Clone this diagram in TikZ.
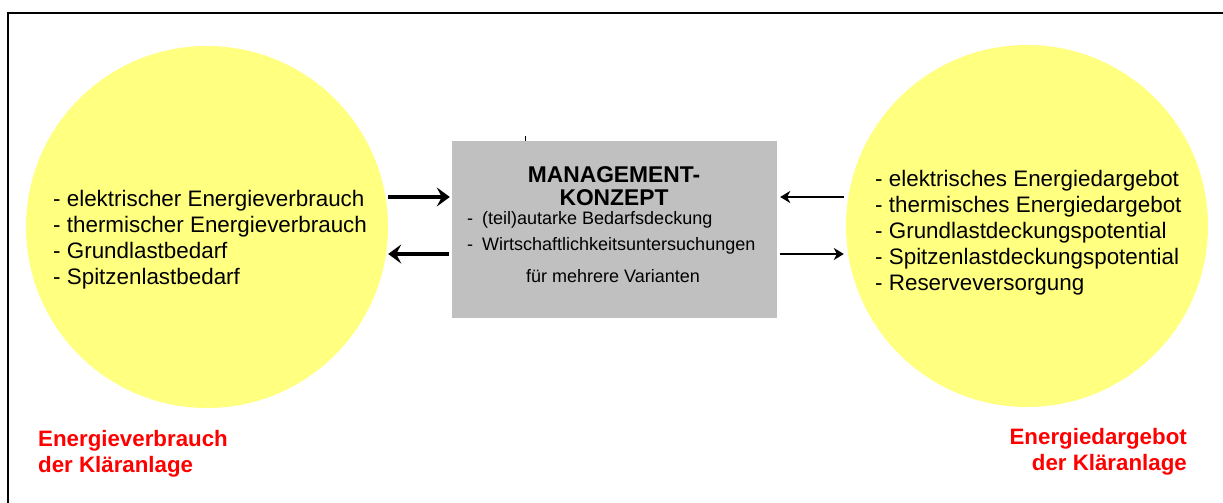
\documentclass[tikz,border=0pt]{standalone}
\usepackage{fontspec}
\setmainfont{Liberation Sans}
\usetikzlibrary{arrows.meta}

\definecolor{circleYellow}{RGB}{255,255,128}
\definecolor{boxGray}{RGB}{192,192,192}
\definecolor{labelRed}{RGB}{255,0,0}

\def\circleDiameter{362pt}

\tikzset{
  energyCircle/.style={circle, fill=circleYellow, draw=none,
    minimum size=\circleDiameter, inner sep=0pt},
  konzeptBox/.style={rectangle, fill=boxGray, draw=none,
    minimum width=325pt, minimum height=177pt, inner sep=0pt},
  listText/.style={align=left, inner sep=0pt,
    font=\fontsize{22.4}{26}\selectfont},
  titleText/.style={inner sep=0pt, font=\fontsize{22.8}{23}\selectfont\bfseries},
  boxText/.style={inner sep=0pt, font=\fontsize{18}{20}\selectfont},
  redLabel/.style={inner sep=0pt, text=labelRed,
    font=\fontsize{22.3}{26}\selectfont\bfseries},
  thickArrow/.style={line width=3.5pt,
    -{Stealth[length=13pt, width=19pt, inset=5pt]}},
  thinArrow/.style={line width=2.5pt,
    -{Stealth[length=10pt, width=12pt, inset=3pt]}}
}

\begin{document}
\begin{tikzpicture}[x=1pt, y=1pt]
      \clip (0,0) rectangle (1223,503);

      % frame round the whole sheet
      \draw[line width=2pt]
        (8,-20) rectangle (1240,490)
      ;

      \node[energyCircle] (verbrauch) at (207,276) {};
      \node[energyCircle] (angebot) at (1027,277) {};
      \node[konzeptBox] (konzept) at (614.5,273.5) {};

      \draw[line width=1pt]
        (525,362) -- (525,367)
      ;

      % consumption side
      \node[listText, anchor=north west] (verbrauchListe) at (53,313) {%
        - elektrischer Energieverbrauch\\
        - thermischer Energieverbrauch\\
        - Grundlastbedarf\\
        - Spitzenlastbedarf};
      \node[redLabel, align=left, anchor=north west] (verbrauchTitel)
        at (38,73) {Energieverbrauch\\der Kläranlage};

      % supply side
      \node[listText, anchor=north west] (angebotListe) at (875,333) {%
        - elektrisches Energiedargebot\\
        - thermisches Energiedargebot\\
        - Grundlastdeckungspotential\\
        - Spitzenlastdeckungspotential\\
        - Reserveversorgung};
      \node[redLabel, align=right, anchor=north east] (angebotTitel)
        at (1187,75) {Energiedargebot\\der Kläranlage};

      % management box
      \node[titleText, anchor=base] (titelOben) at (614,320) {MANAGEMENT-};
      \node[titleText, anchor=base] (titelUnten) at (614,297) {KONZEPT};
      \node[boxText, anchor=base west] (punktEins) at (467,278)
        {-\hspace{9pt}(teil)autarke Bedarfsdeckung};
      \node[boxText, anchor=base west] (punktZwei) at (467,252)
        {-\hspace{9pt}Wirtschaftlichkeitsuntersuchungen};
      \node[boxText, anchor=base] (punktDrei) at (613,220)
        {für mehrere Varianten};

      % arrows between the circles and the box
      \draw[thickArrow, shorten >=2pt]
        (verbrauch.east |- 0,306) -- (konzept.west |- 0,306)
      ;
      \draw[thickArrow, shorten <=3pt]
        (konzept.west |- 0,249) -- (verbrauch.east |- 0,249)
      ;
      \draw[thinArrow, shorten >=3pt, shorten <=2pt]
        (angebot.west |- 0,306) -- (konzept.east |- 0,306)
      ;
      \draw[thinArrow, shorten <=3pt, shorten >=2pt]
        (konzept.east |- 0,249) -- (angebot.west |- 0,249)
      ;
\end{tikzpicture}
\end{document}
